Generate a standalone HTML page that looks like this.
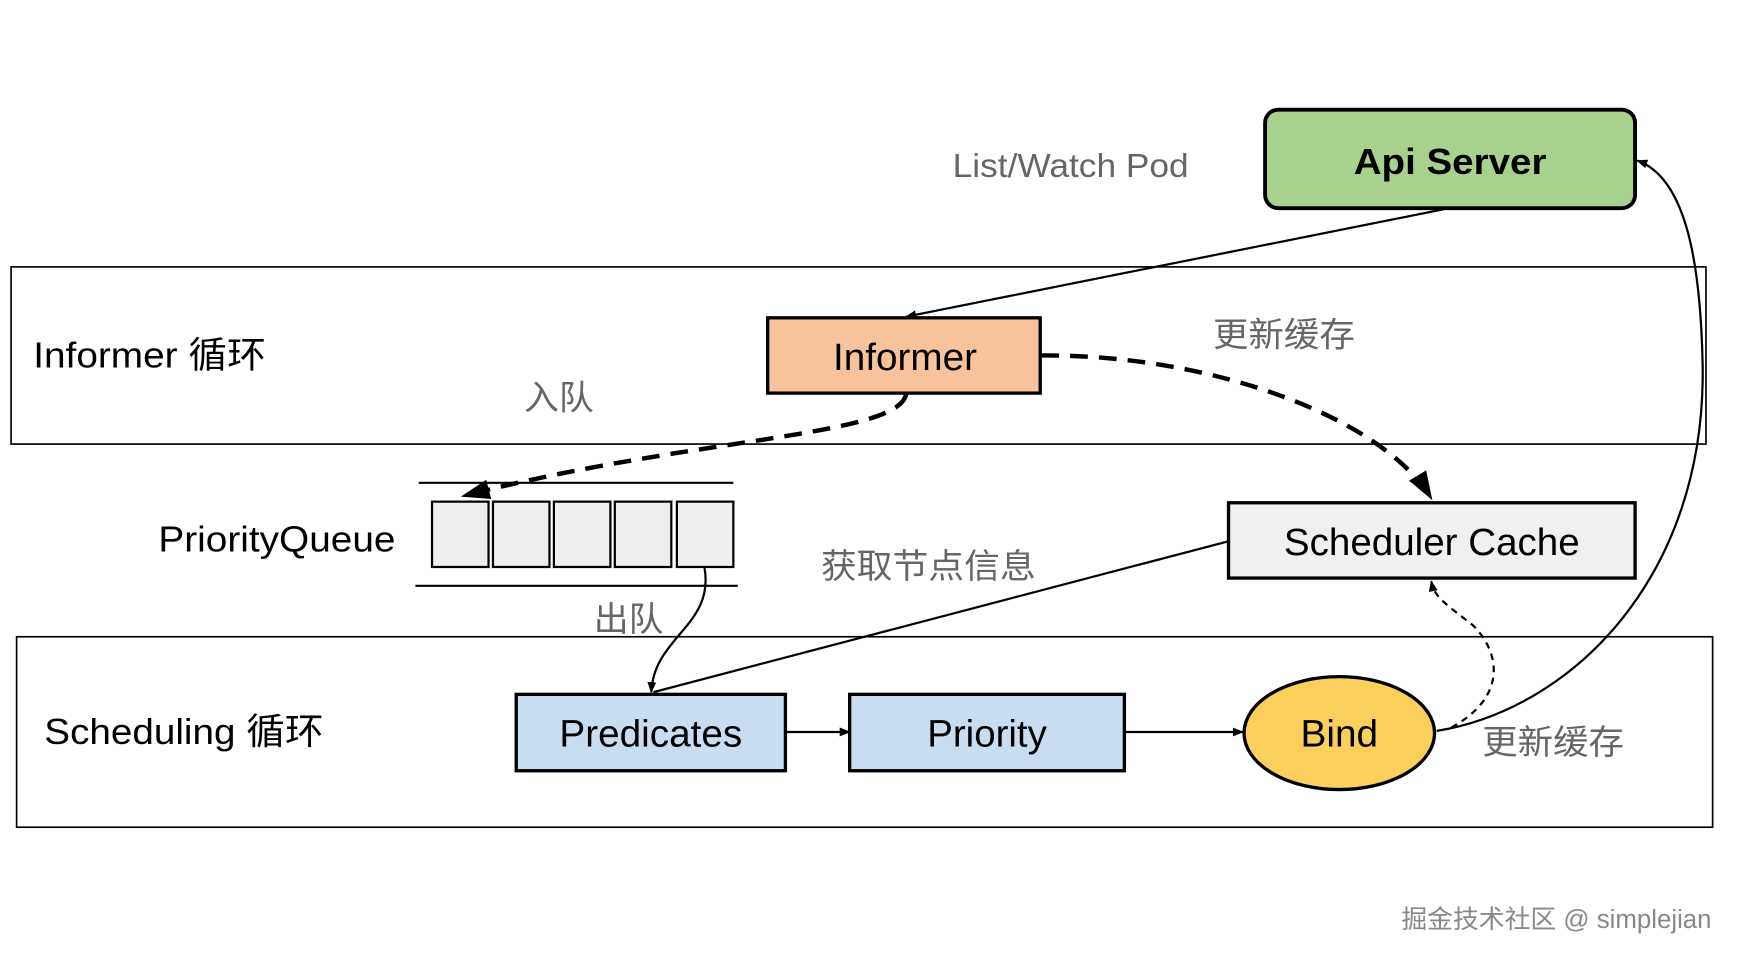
<!DOCTYPE html>
<html><head><meta charset="utf-8"><style>
html,body{margin:0;padding:0;background:#fff}
svg{display:block}
text{font-family:"Liberation Sans","Noto Sans CJK SC",sans-serif}
</style></head><body>
<svg width="1737" height="959" viewBox="0 0 1568 866" preserveAspectRatio="none" xmlns="http://www.w3.org/2000/svg">
<defs>
<marker id="a" markerWidth="10" markerHeight="10" refX="9" refY="5" orient="auto" markerUnits="userSpaceOnUse"><path d="M0,1 L10,5 L0,9 z" fill="#000"/></marker>
<marker id="b" markerWidth="26" markerHeight="26" refX="24" refY="13" orient="auto" markerUnits="userSpaceOnUse"><path d="M0,4 L26,13 L0,22 z" fill="#000"/></marker>
</defs>
<rect x="10" y="241" width="1530" height="160" fill="none" stroke="#000" stroke-width="1.5"/>
<rect x="15" y="575" width="1531" height="172" fill="none" stroke="#000" stroke-width="1.5"/>
<rect x="1142" y="99" width="334" height="89" rx="12" fill="#a9d18e" stroke="#000" stroke-width="3.5"/>
<text x="1222" y="157" font-size="33" font-weight="bold" textLength="174" lengthAdjust="spacingAndGlyphs">Api Server</text>
<text x="860" y="160" font-size="30" fill="#666" textLength="213" lengthAdjust="spacingAndGlyphs">List/Watch Pod</text>
<text x="30" y="332" font-size="33" textLength="210" lengthAdjust="spacingAndGlyphs">Informer 循环</text>
<rect x="693" y="287" width="246" height="68" fill="#f8c39a" stroke="#000" stroke-width="3"/>
<text x="752" y="334" font-size="34" textLength="130" lengthAdjust="spacingAndGlyphs">Informer</text>
<text x="1095" y="313" font-size="31" fill="#666" textLength="128" lengthAdjust="spacingAndGlyphs">更新缓存</text>
<text x="473" y="370" font-size="31" fill="#666" textLength="63" lengthAdjust="spacingAndGlyphs">入队</text>
<line x1="1303" y1="189" x2="818" y2="286" stroke="#000" stroke-width="2" marker-end="url(#a)"/>
<path d="M818,356 C810,395 620,395 418,448" fill="none" stroke="#000" stroke-width="4" stroke-dasharray="16,10" marker-end="url(#b)"/>
<path d="M940,321 C1100,320 1250,380 1292,450" fill="none" stroke="#000" stroke-width="4" stroke-dasharray="16,10" marker-end="url(#b)"/>
<line x1="378" y1="436" x2="662" y2="436" stroke="#000" stroke-width="2"/>
<line x1="375" y1="529" x2="666" y2="529" stroke="#000" stroke-width="2"/>
<g fill="#eee" stroke="#000" stroke-width="2">
<rect x="390" y="453" width="51" height="59"/><rect x="445" y="453" width="51" height="59"/><rect x="500" y="453" width="51" height="59"/><rect x="555" y="453" width="51" height="59"/><rect x="611" y="453" width="51" height="59"/>
</g>
<text x="143" y="498" font-size="33" textLength="214" lengthAdjust="spacingAndGlyphs">PriorityQueue</text>
<rect x="1109" y="454" width="367" height="68" fill="#f0f0f0" stroke="#000" stroke-width="3"/>
<text x="1159" y="501" font-size="34" textLength="267" lengthAdjust="spacingAndGlyphs">Scheduler Cache</text>
<text x="741" y="522" font-size="31" fill="#666" textLength="194" lengthAdjust="spacingAndGlyphs">获取节点信息</text>
<line x1="1108" y1="489" x2="590" y2="625" stroke="#000" stroke-width="2"/>
<text x="536" y="570" font-size="31" fill="#666" textLength="63" lengthAdjust="spacingAndGlyphs">出队</text>
<path d="M636,513 C645,565 590,575 588,625" fill="none" stroke="#000" stroke-width="2" marker-end="url(#a)"/>
<text x="40" y="672" font-size="33" textLength="252" lengthAdjust="spacingAndGlyphs">Scheduling 循环</text>
<rect x="466" y="627" width="243" height="69" fill="#c9ddf0" stroke="#000" stroke-width="3"/>
<text x="505" y="674" font-size="34" textLength="165" lengthAdjust="spacingAndGlyphs">Predicates</text>
<rect x="767" y="627" width="248" height="69" fill="#c9ddf0" stroke="#000" stroke-width="3"/>
<text x="837" y="674" font-size="34" textLength="108" lengthAdjust="spacingAndGlyphs">Priority</text>
<ellipse cx="1209" cy="662" rx="86" ry="51" fill="#fbcf5b" stroke="#000" stroke-width="3"/>
<text x="1174" y="674" font-size="34" textLength="70" lengthAdjust="spacingAndGlyphs">Bind</text>
<line x1="709" y1="661" x2="767" y2="661" stroke="#000" stroke-width="2" marker-end="url(#a)"/>
<line x1="1015" y1="661" x2="1122" y2="661" stroke="#000" stroke-width="2" marker-end="url(#a)"/>
<text x="1338" y="681" font-size="31" fill="#666" textLength="128" lengthAdjust="spacingAndGlyphs">更新缓存</text>
<path d="M1297,660 C1420,640 1540,520 1537,330 C1535,230 1520,160 1478,145" fill="none" stroke="#000" stroke-width="2" marker-end="url(#a)"/>
<path d="M1310,657 C1360,630 1355,590 1330,565 C1305,545 1295,540 1292,525" fill="none" stroke="#000" stroke-width="2" stroke-dasharray="6,5" marker-end="url(#a)"/>
<text x="1265" y="838" font-size="23" fill="#888" textLength="280" lengthAdjust="spacingAndGlyphs">掘金技术社区 @ simplejian</text>
</svg>
</body></html>
